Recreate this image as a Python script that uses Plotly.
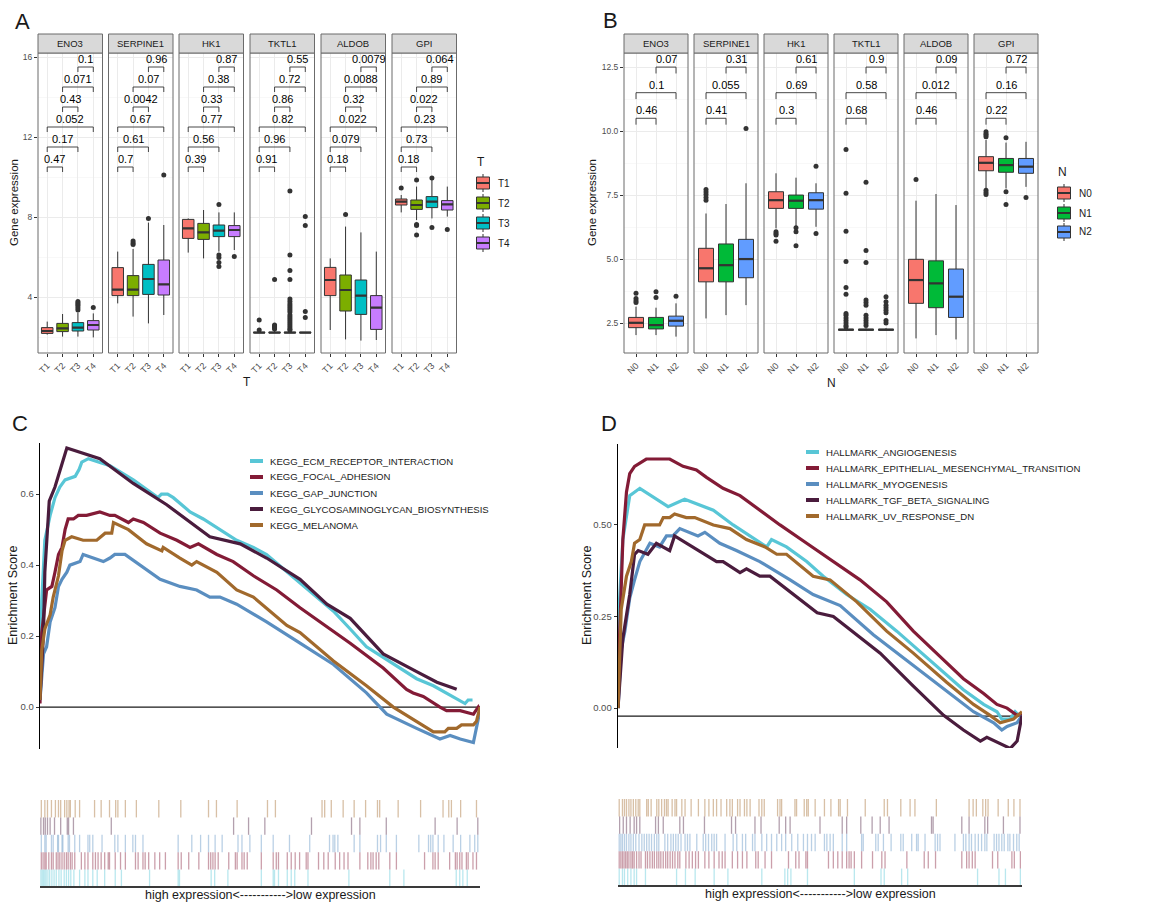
import plotly.graph_objects as go

# ============================ DATA ============================
GENES = ["ENO3", "SERPINE1", "HK1", "TKTL1", "ALDOB", "GPI"]
T_GROUPS = ["T1", "T2", "T3", "T4"]
N_GROUPS = ["N0", "N1", "N2"]
T_COLORS = ["#F8766D", "#7CAE00", "#00BFC4", "#C77CFF"]
N_COLORS = ["#F8766D", "#00BA38", "#619CFF"]

# Panel A box statistics (rows: genes, columns: T1..T4)
A_LOWER = [[2.12, 2.02, 2.02, 1.98], [3.68, 3.02, 2.68, 3.10], [6.22, 5.93, 6.27, 6.35],
           [2.20, 2.20, 2.20, 2.20], [2.35, 1.88, 1.82, 1.85], [8.23, 7.85, 7.93, 8.02]]
A_Q1 = [[2.18, 2.27, 2.30, 2.35], [4.07, 4.07, 4.13, 4.10], [6.93, 6.88, 7.02, 7.02],
        [2.21, 2.21, 2.21, 2.21], [4.07, 3.30, 3.13, 2.38], [8.60, 8.38, 8.47, 8.35]]
A_MED = [[2.30, 2.43, 2.47, 2.60], [4.37, 4.37, 4.90, 4.63], [7.43, 7.23, 7.32, 7.35],
         [2.22, 2.22, 2.22, 2.22], [4.85, 4.35, 4.07, 3.47], [8.77, 8.60, 8.77, 8.63]]
A_Q3 = [[2.47, 2.68, 2.72, 2.82], [5.47, 5.07, 5.63, 5.85], [7.88, 7.68, 7.60, 7.57],
        [2.24, 2.24, 2.24, 2.24], [5.48, 5.10, 4.85, 4.07], [8.90, 8.85, 9.02, 8.82]]
A_UPPER = [[2.77, 3.15, 3.22, 3.18], [6.27, 6.40, 7.72, 7.60], [7.93, 8.35, 8.23, 8.23],
           [2.28, 2.30, 2.30, 2.25], [5.93, 7.52, 7.23, 6.27], [9.10, 9.52, 9.85, 9.52]]
A_OUTLIERS = [
    [[], [], [3.35, 3.45, 3.55, 3.62, 3.70, 3.77], [3.48]],
    [[], [6.62, 6.70, 6.80], [7.93], [10.1]],
    [[], [], [8.63, 6.10, 5.97, 5.72, 5.52], [6.03]],
    [[2.85, 2.35], [4.88, 2.60, 2.55, 2.50, 2.45, 2.40],
     [9.30, 6.10, 5.32, 4.88, 3.90, 3.77, 3.65, 3.55, 3.45, 3.35, 3.25, 3.10, 3.00, 2.90,
      2.80, 2.70, 2.60, 2.50, 2.40, 2.35],
     [8.02, 7.57, 3.27, 2.98]],
    [[], [8.13], [], []],
    [[9.45], [9.85, 7.63, 7.57, 7.10], [9.95, 7.48], [7.38]],
]
A_PAIRS = [(1, 2), (1, 3), (1, 4), (2, 3), (2, 4), (3, 4)]
A_PVALS = [
    ["0.47", "0.17", "0.052", "0.43", "0.071", "0.1"],
    ["0.7", "0.61", "0.67", "0.0042", "0.07", "0.96"],
    ["0.39", "0.56", "0.77", "0.33", "0.38", "0.87"],
    ["0.91", "0.96", "0.82", "0.86", "0.72", "0.55"],
    ["0.18", "0.079", "0.022", "0.32", "0.0088", "0.0079"],
    ["0.18", "0.73", "0.23", "0.022", "0.89", "0.064"],
]
A_YTICKS = [4, 8, 12, 16]
A_YTICKTEXT = ["4", "8", "12", "16"]
A_YMINOR = [2, 6, 10, 14]

# Panel B box statistics (rows: genes, columns: N0..N2)
B_LOWER = [[2.03, 2.03, 1.97], [2.68, 2.81, 3.20], [6.20, 6.26, 6.26],
           [2.20, 2.20, 2.20], [1.90, 2.03, 1.86], [7.76, 7.76, 7.82]]
B_Q1 = [[2.32, 2.27, 2.38], [4.11, 4.11, 4.27], [6.98, 6.98, 6.95],
        [2.22, 2.22, 2.22], [3.27, 3.10, 2.72], [8.45, 8.39, 8.35]]
B_MED = [[2.51, 2.42, 2.59], [4.64, 4.76, 5.00], [7.30, 7.28, 7.30],
         [2.24, 2.24, 2.24], [4.18, 4.05, 3.53], [8.76, 8.67, 8.61]]
B_Q3 = [[2.72, 2.72, 2.77], [5.42, 5.59, 5.77], [7.63, 7.50, 7.59],
        [2.26, 2.26, 2.26], [4.99, 4.93, 4.61], [9.00, 8.93, 8.93]]
B_UPPER = [[3.14, 3.10, 3.27], [6.78, 7.15, 7.96], [8.35, 8.18, 7.96],
           [2.30, 2.30, 2.30], [7.28, 7.54, 7.11], [9.65, 9.55, 9.58]]
B_OUTLIERS = [
    [[3.66, 3.46, 3.37, 3.30], [3.72, 3.50], [3.55]],
    [[7.72, 7.62, 7.52, 7.40, 7.30], [], [10.1]],
    [[6.07, 6.00, 5.94, 5.70], [6.22, 6.07, 5.52], [8.63, 6.00]],
    [[9.28, 7.57, 6.09, 4.90, 3.89, 3.63, 2.87, 2.80, 2.70, 2.60, 2.50, 2.40, 2.35],
     [8.00, 5.33, 4.87, 3.40, 3.30, 3.20, 2.80, 2.70, 2.60, 2.50, 2.40],
     [3.53, 3.33, 3.20, 3.10, 3.00, 2.90, 2.60, 2.50]],
    [[8.11], [], []],
    [[9.97, 9.90, 9.85, 9.78, 7.69, 7.60, 7.52], [9.74, 7.63, 7.13], [7.40]],
]
B_PAIRS = [(1, 2), (1, 3), (2, 3)]
B_PVALS = [
    ["0.46", "0.1", "0.07"],
    ["0.41", "0.055", "0.31"],
    ["0.3", "0.69", "0.61"],
    ["0.68", "0.58", "0.9"],
    ["0.46", "0.012", "0.09"],
    ["0.22", "0.16", "0.72"],
]
B_YTICKS = [2.5, 5.0, 7.5, 10.0, 12.5]
B_YTICKTEXT = ["2.5", "5.0", "7.5", "10.0", "12.5"]
B_YMINOR = [3.75, 6.25, 8.75, 11.25]

# Panel C: running enrichment scores (x = % of ranked gene list)
C_NAMES = ["KEGG_ECM_RECEPTOR_INTERACTION", "KEGG_FOCAL_ADHESION", "KEGG_GAP_JUNCTION",
           "KEGG_GLYCOSAMINOGLYCAN_BIOSYNTHESIS", "KEGG_MELANOMA"]
C_ECM_X = [0, 0.4, 1.1, 2.3, 3.4, 4.5, 5.7, 8.0, 8.9, 9.5, 11.0, 13.6, 15.9, 21.2, 26.8, 27.6,
           29.0, 30.3, 34.1, 37.1, 40.9, 44.7, 48.5, 51.5, 55.3, 59.1, 63.6, 66.7, 70.5, 74.2,
           78.0, 81.8, 85.6, 89.4, 92.4, 96.6, 97.3, 98.3]
C_ECM_Y = [0.04, 0.30, 0.47, 0.54, 0.59, 0.62, 0.64, 0.65, 0.67, 0.69, 0.70, 0.69, 0.68, 0.64,
           0.59, 0.60, 0.60, 0.59, 0.55, 0.53, 0.50, 0.47, 0.45, 0.43, 0.39, 0.35, 0.30, 0.27,
           0.22, 0.17, 0.14, 0.11, 0.08, 0.06, 0.04, 0.01, 0.02, 0.02]
C_FOCAL_X = [0, 0.4, 1.5, 2.7, 3.4, 4.2, 5.0, 5.7, 6.4, 7.6, 8.7, 10.6, 13.6, 15.9, 17.0, 20.1,
             21.2, 23.5, 27.3, 31.1, 34.1, 36.0, 40.2, 43.9, 48.5, 53.8, 59.1, 63.6, 70.5, 78.0,
             83.3, 84.8, 87.1, 90.9, 92.4, 95.5, 98.5, 99.6, 100]
C_FOCAL_Y = [0.01, 0.21, 0.33, 0.34, 0.38, 0.43, 0.45, 0.50, 0.53, 0.53, 0.54, 0.54, 0.55, 0.54,
             0.54, 0.52, 0.53, 0.52, 0.49, 0.47, 0.45, 0.46, 0.43, 0.41, 0.37, 0.33, 0.28, 0.24,
             0.18, 0.11, 0.05, 0.04, 0.03, 0.00, -0.01, -0.01, -0.02, 0.00, -0.01]
C_GAP_X = [0, 0.8, 1.5, 2.3, 3.4, 4.2, 5.0, 6.1, 6.8, 9.1, 9.8, 12.1, 14.4, 15.9, 17.0, 19.3,
           22.7, 27.3, 31.8, 35.6, 38.6, 40.9, 44.7, 51.5, 59.1, 66.7, 74.2, 78.8, 85.6, 90.9,
           93.2, 95.5, 98.5, 99.2, 100]
C_GAP_Y = [0.02, 0.15, 0.17, 0.24, 0.28, 0.34, 0.36, 0.38, 0.40, 0.41, 0.43, 0.42, 0.41, 0.42,
           0.43, 0.43, 0.40, 0.36, 0.34, 0.33, 0.31, 0.31, 0.29, 0.24, 0.18, 0.12, 0.04, -0.02,
           -0.06, -0.09, -0.08, -0.09, -0.10, -0.06, -0.01]
C_GLYCO_X = [0, 0.8, 1.1, 2.1, 3.4, 6.1, 13.6, 21.2, 28.8, 38.6, 45.5, 51.5, 59.1, 65.2, 70.5,
             78.0, 85.6, 90.2, 94.7]
C_GLYCO_Y = [0.02, 0.21, 0.38, 0.58, 0.62, 0.73, 0.70, 0.63, 0.57, 0.48, 0.46, 0.42, 0.36, 0.29,
             0.25, 0.15, 0.10, 0.07, 0.05]
C_MEL_X = [0, 0.4, 1.1, 2.3, 3.0, 4.2, 5.0, 5.7, 7.2, 9.8, 12.9, 14.8, 16.3, 16.7, 20.1, 24.2,
           27.7, 28.0, 31.8, 34.5, 35.6, 40.2, 44.7, 48.5, 56.1, 59.1, 66.7, 74.2, 80.3, 85.6,
           89.4, 92.0, 92.8, 94.7, 95.8, 98.5, 99.2, 100]
C_MEL_Y = [0.02, 0.16, 0.22, 0.26, 0.31, 0.37, 0.44, 0.47, 0.48, 0.47, 0.47, 0.49, 0.49, 0.52,
           0.50, 0.46, 0.44, 0.45, 0.42, 0.40, 0.41, 0.38, 0.33, 0.31, 0.23, 0.21, 0.13, 0.06,
           0.00, -0.04, -0.07, -0.07, -0.06, -0.06, -0.05, -0.05, -0.04, 0.00]
C_COLORS = ["#58C6D6", "#831B36", "#5A8EC0", "#4A1C3D", "#A1692C"]
C_YTICKS = [0.0, 0.2, 0.4, 0.6]
C_YTICKTEXT = ["0.0", "0.2", "0.4", "0.6"]
C_HLINE = 0.0

# Panel C gene-set hit positions (% of ranked list)
C_RUG_ECM = [0.2, 0.5, 0.8, 1.1, 1.4, 1.8, 2.2, 2.7, 3.2, 3.7, 4.3, 4.8, 5.5, 6.0, 6.5, 7.0, 7.7,
             9.0, 10.2, 10.9, 12.0, 13.0, 14.7, 17.1, 18.5, 24.9, 31.4, 31.7, 38.9, 39.7, 42.7,
             50.3, 53.0, 53.3, 54.2, 56.2, 57.1, 57.9, 60.9, 70.2, 79.5, 82.7, 94.6, 95.4, 96.1,
             97.1]
C_RUG_FOCAL = [0.3, 0.7, 1.1, 1.4, 2.0, 2.6, 3.0, 3.7, 4.1, 4.5, 5.0, 5.5, 6.0, 6.4, 6.9, 7.3,
               7.9, 9.4, 10.2, 10.9, 12.0, 12.6, 13.2, 13.9, 14.7, 15.5, 15.8, 17.1, 18.3, 19.4,
               21.7, 22.3, 23.4, 23.9, 24.7, 26.1, 27.2, 28.5, 31.4, 32.1, 33.8, 36.1, 38.3,
               38.8, 39.3, 39.8, 40.5, 42.9, 44.4, 44.8, 45.9, 46.4, 47.1, 50.3, 53.0, 53.7,
               54.2, 56.2, 57.1, 58.0, 59.0, 60.5, 60.9, 63.3, 64.5, 65.5, 67.1, 68.1, 69.1,
               70.0, 72.7, 74.5, 75.2, 75.7, 76.4, 77.0, 79.5, 81.0, 87.4, 89.3, 89.8, 90.5,
               93.1, 94.4, 94.8, 95.4, 95.9, 96.9, 97.3, 98.4, 99.2]
C_RUG_GAP = [0.3, 1.1, 1.4, 2.6, 3.0, 4.0, 4.2, 5.0, 5.2, 6.4, 6.7, 7.9, 9.0, 10.9, 11.3, 12.0,
             14.1, 17.0, 17.7, 19.4, 21.1, 21.7, 23.4, 31.4, 34.5, 36.5, 38.3, 39.8, 41.4,
             45.0, 45.9, 47.7, 50.3, 53.0, 56.7, 61.3, 65.8, 66.6, 67.0, 67.7, 71.4, 72.7,
             76.7, 77.4, 78.7, 81.0, 86.1, 88.3, 88.8, 89.3, 90.5, 91.8, 93.9, 95.6, 97.7,
             98.8, 99.5]
C_RUG_GLYCO = [0.2, 0.8, 1.2, 1.7, 2.3, 3.3, 4.7, 6.2, 6.5, 7.6, 16.2, 44.0, 47.4, 51.1, 61.7,
               70.8, 72.7, 78.7, 89.8, 94.8, 99.5]
C_RUG_MEL = [0.3, 1.1, 1.7, 2.6, 3.5, 4.2, 4.7, 5.6, 6.1, 6.6, 6.9, 8.0, 9.0, 12.4, 13.9, 15.8,
             17.2, 17.7, 19.4, 21.9, 27.0, 32.0, 38.3, 40.1, 44.8, 51.7, 53.5, 64.1, 64.7, 66.2,
             68.9, 71.4, 74.0, 76.7, 77.2, 81.4, 86.5, 91.6, 92.9, 93.5, 95.6, 99.2]

# Panel D: running enrichment scores
D_NAMES = ["HALLMARK_ANGIOGENESIS", "HALLMARK_EPITHELIAL_MESENCHYMAL_TRANSITION",
           "HALLMARK_MYOGENESIS", "HALLMARK_TGF_BETA_SIGNALING", "HALLMARK_UV_RESPONSE_DN"]
D_ANGIO_X = [0, 0.4, 1.2, 2.5, 2.9, 5.4, 12.4, 16.5, 21.1, 23.6, 28.5, 32.6, 36.8, 38.0, 41.7,
             46.7, 50.8, 56.6, 62.4, 69.0, 77.3, 85.5, 90.5, 93.8, 95.0, 97.1, 98.3, 99.2, 100]
D_ANGIO_Y = [0.00, 0.30, 0.46, 0.55, 0.58, 0.60, 0.55, 0.57, 0.55, 0.54, 0.50, 0.47, 0.44, 0.46,
             0.44, 0.40, 0.36, 0.31, 0.27, 0.21, 0.13, 0.05, 0.01, -0.01, -0.03, -0.03, -0.01,
             -0.02, -0.02]
D_EMT_X = [0, 0.4, 1.2, 2.1, 2.9, 4.1, 7.0, 12.8, 16.1, 19.4, 21.9, 26.0, 30.2, 35.1, 40.1,
           46.7, 53.3, 59.9, 66.5, 73.1, 79.8, 85.5, 90.5, 93.8, 96.3, 98.8, 100]
D_EMT_Y = [0.00, 0.20, 0.46, 0.59, 0.64, 0.66, 0.68, 0.68, 0.66, 0.65, 0.63, 0.60, 0.58, 0.54,
           0.50, 0.45, 0.40, 0.35, 0.29, 0.21, 0.14, 0.08, 0.04, 0.01, 0.00, -0.02, -0.02]
D_MYO_X = [0, 0.8, 1.7, 2.9, 4.1, 5.4, 7.9, 10.3, 12.0, 13.6, 15.3, 17.8, 19.8, 21.5, 25.2,
           29.3, 35.1, 42.6, 48.3, 55.0, 63.2, 71.5, 79.8, 88.0, 93.0, 95.0, 96.3, 98.8, 100]
D_MYO_Y = [0.00, 0.16, 0.21, 0.30, 0.35, 0.40, 0.45, 0.44, 0.47, 0.47, 0.49, 0.48, 0.47, 0.48,
           0.45, 0.43, 0.40, 0.35, 0.31, 0.28, 0.20, 0.13, 0.06, -0.01, -0.04, -0.06, -0.05,
           -0.04, -0.02]
D_TGF_X = [0, 1.2, 2.9, 4.1, 5.0, 7.4, 9.5, 12.8, 14.0, 18.6, 24.4, 26.0, 30.2, 31.8, 35.1,
           37.6, 43.4, 49.3, 53.3, 59.1, 64.9, 73.1, 80.6, 85.5, 89.7, 91.3, 97.1, 98.8, 100]
D_TGF_Y = [0.00, 0.19, 0.31, 0.42, 0.43, 0.42, 0.45, 0.43, 0.47, 0.44, 0.40, 0.40, 0.37, 0.38,
           0.36, 0.36, 0.31, 0.26, 0.25, 0.20, 0.15, 0.06, -0.02, -0.06, -0.09, -0.08, -0.11,
           -0.09, -0.02]
D_UV_X = [0, 0.8, 2.1, 3.3, 4.1, 5.4, 6.6, 10.3, 11.2, 12.8, 14.0, 16.9, 19.0, 23.6, 27.7,
          31.8, 36.4, 39.3, 41.7, 48.3, 52.5, 59.1, 66.5, 73.1, 81.4, 88.0, 92.1, 94.6, 97.9,
          100]
D_UV_Y = [0.00, 0.27, 0.36, 0.40, 0.45, 0.46, 0.50, 0.50, 0.52, 0.52, 0.53, 0.52, 0.52, 0.50,
          0.49, 0.46, 0.44, 0.42, 0.42, 0.36, 0.35, 0.29, 0.21, 0.15, 0.07, 0.01, -0.02, -0.04,
          -0.03, -0.01]
D_COLORS = ["#58C6D6", "#831B36", "#5A8EC0", "#4A1C3D", "#A1692C"]
D_YTICKS = [0.0, 0.25, 0.5]
D_YTICKTEXT = ["0.00", "0.25", "0.50"]
D_HLINE = -0.022

D_RUG_ANGIO = [0.3, 1.1, 1.6, 2.4, 3.2, 4.0, 4.6, 6.8, 14.5, 16.7, 19.1, 23.8, 27.2, 35.6,
               41.3, 42.0, 42.8, 46.9, 58.5, 65.1, 65.9, 70.2, 71.7, 89.0, 94.3, 95.9, 99.6]
D_RUG_EMT = [0.3, 0.7, 1.1, 1.5, 1.9, 2.3, 2.7, 3.2, 3.6, 4.0, 4.6, 5.2, 5.7, 6.8, 7.3, 7.9,
             8.5, 9.0, 9.6, 10.1, 10.6, 11.2, 11.8, 12.3, 12.9, 13.5, 14.1, 14.8, 15.3, 16.8,
             17.6, 18.4, 19.2, 19.9, 21.5, 22.5, 23.8, 25.0, 25.8, 26.5, 28.3, 29.6, 30.8,
             31.9, 34.1, 34.7, 36.4, 38.0, 42.2, 44.0, 44.8, 46.5, 46.9, 52.1, 53.3, 54.4,
             55.5, 56.6, 57.2, 57.7, 58.5, 60.3, 63.0, 65.3, 66.1, 71.5, 75.8, 76.8, 78.6,
             85.1, 86.3, 86.9, 87.7, 88.4, 92.7, 94.0, 97.5, 98.1, 99.6]
D_RUG_MYO = [0.3, 0.7, 1.1, 1.6, 2.1, 2.7, 3.2, 3.8, 4.4, 5.2, 5.9, 6.5, 7.1, 7.7, 8.3, 9.0,
             9.6, 10.1, 11.6, 12.3, 13.1, 13.7, 14.3, 14.9, 15.6, 16.6, 17.2, 17.8, 19.5, 21.1,
             21.7, 22.4, 23.2, 23.8, 24.4, 26.5, 28.5, 29.4, 30.8, 31.6, 33.3, 33.9, 35.6,
             36.8, 38.0, 39.3, 40.5, 41.5, 43.0, 44.5, 45.9, 46.9, 47.9, 48.8, 51.1, 51.7,
             52.5, 53.3, 55.5, 56.6, 60.3, 60.7, 63.8, 64.4, 65.7, 67.6, 70.0, 70.6, 72.7,
             73.9, 74.3, 76.0, 78.5, 79.1, 79.7, 83.4, 85.5, 86.1, 86.9, 87.5, 88.4, 89.2,
             90.0, 90.8, 91.3, 93.1, 93.7, 94.3, 95.0, 95.6, 96.5, 97.0, 97.9, 98.7, 99.3]
D_RUG_TGF = [0.4, 1.3, 2.1, 3.0, 4.0, 4.6, 5.4, 9.3, 10.0, 11.2, 15.3, 16.2, 21.4, 28.1, 29.1,
             33.9, 35.4, 39.9, 41.5, 42.6, 50.0, 55.5, 56.6, 60.1, 62.9, 64.9, 67.1, 77.6,
             78.0, 85.1, 86.9, 90.8, 91.5, 95.4, 99.5]
D_RUG_UV = [0.3, 1.1, 1.6, 2.1, 2.7, 3.2, 3.8, 4.4, 5.0, 5.4, 7.1, 7.5, 8.2, 9.6, 10.1, 10.8,
            11.5, 12.0, 12.4, 13.4, 14.1, 14.5, 15.8, 16.6, 18.1, 19.9, 21.5, 22.5, 23.6, 24.4,
            25.5, 26.9, 27.7, 28.3, 29.6, 30.2, 31.3, 31.9, 32.7, 34.9, 35.6, 36.2, 39.5, 40.1,
            40.5, 43.8, 44.2, 46.1, 46.7, 47.1, 48.8, 51.1, 52.7, 54.6, 55.0, 56.8, 61.2,
            65.9, 66.7, 70.0, 72.3, 73.5, 78.8, 86.9, 87.9, 88.7, 90.3, 91.0, 91.6, 94.1,
            96.6, 98.0, 99.5]

RUG_TEXT = "high expression<----------->low expression"

# ============================ LAYOUT HELPERS ============================
W, H = 1155, 904
FONT = "Liberation Sans, Arial, sans-serif"
BORDER = "#6B6B6B"


def fx(p):
    return p / W


def fy(p):
    return 1 - p / H


def rgba(h, a):
    h = h.lstrip("#")
    return "rgba(%d,%d,%d,%.3f)" % (int(h[0:2], 16), int(h[2:4], 16), int(h[4:6], 16), a)


fig = go.Figure()
layout = dict(width=W, height=H, margin=dict(l=0, r=0, t=0, b=0), paper_bgcolor="white",
              plot_bgcolor="white", showlegend=False, hovermode=False,
              font=dict(family=FONT, color="#1A1A1A"))
annotations = []
shapes = []
axis_counter = [0]


def new_axes(xdom, ydom, xcfg, ycfg):
    axis_counter[0] += 1
    i = axis_counter[0]
    xk = "xaxis" if i == 1 else "xaxis%d" % i
    yk = "yaxis" if i == 1 else "yaxis%d" % i
    xr = "x" if i == 1 else "x%d" % i
    yr = "y" if i == 1 else "y%d" % i
    layout[xk] = dict(domain=[fx(xdom[0]), fx(xdom[1])], anchor=yr, **xcfg)
    layout[yk] = dict(domain=[fy(ydom[1]), fy(ydom[0])], anchor=xr, **ycfg)
    return xr, yr


def text(x, y, s, size, xanchor="center", yanchor="middle", angle=0, color="#1A1A1A",
         xref="paper", yref="paper"):
    annotations.append(dict(x=x, y=y, xref=xref, yref=yref, text=s, showarrow=False,
                            font=dict(size=size, color=color, family=FONT), xanchor=xanchor,
                            yanchor=yanchor, textangle=angle, borderpad=0))


PLOT_TOP, PLOT_BOT, STRIP_TOP = 53, 353, 34


def facet(gi, left, right, groups, colors, LO, Q1, MD, Q3, UP, OUT, PV, pairs, base_level,
          yrange, ytv, ytt, ymin, drop):
    n = len(groups)
    pos = list(range(1, n + 1))
    show_y = gi == 0
    xcfg = dict(range=[0.4, n + 0.6], tickmode="array", tickvals=pos, ticktext=groups,
                tickangle=-45, ticks="outside", ticklen=3, tickcolor="#333333", tickwidth=1,
                tickfont=dict(size=9, color="#4D4D4D", family=FONT), showgrid=True,
                gridcolor="#EBEBEB", gridwidth=1, zeroline=False, showline=False)
    ycfg = dict(range=yrange, tickmode="array", tickvals=ytv, ticktext=ytt, showgrid=True,
                gridcolor="#EBEBEB", gridwidth=1, zeroline=False, showline=False,
                minor=dict(tickmode="array", tickvals=ymin, showgrid=True, gridcolor="#F4F4F4",
                           gridwidth=0.6, ticks=""),
                showticklabels=show_y, ticks="outside" if show_y else "", ticklen=3,
                tickcolor="#333333", tickfont=dict(size=8.5, color="#4D4D4D", family=FONT))
    xr, yr = new_axes((left, right), (PLOT_TOP, PLOT_BOT), xcfg, ycfg)
    for k in range(n):
        fig.add_trace(go.Box(x=[pos[k]], q1=[Q1[gi][k]], median=[MD[gi][k]], q3=[Q3[gi][k]],
                             lowerfence=[LO[gi][k]], upperfence=[UP[gi][k]], width=0.75,
                             fillcolor=colors[k], line=dict(color="#333333", width=1),
                             whiskerwidth=0, boxpoints=False, xaxis=xr, yaxis=yr,
                             hoverinfo="skip"))
    mx, my = [], []
    for k in range(n):
        mx += [pos[k] - 0.375, pos[k] + 0.375, None]
        my += [MD[gi][k], MD[gi][k], None]
    fig.add_trace(go.Scatter(x=mx, y=my, mode="lines", line=dict(color="#333333", width=2.2),
                             xaxis=xr, yaxis=yr, hoverinfo="skip"))
    ox, oy = [], []
    for k in range(n):
        ox += [pos[k]] * len(OUT[gi][k])
        oy += OUT[gi][k]
    fig.add_trace(go.Scatter(x=ox, y=oy, mode="markers",
                             marker=dict(size=5, color="#333333"), xaxis=xr, yaxis=yr,
                             hoverinfo="skip"))
    bx, by = [], []
    for j, (a, b) in enumerate(pairs):
        lv = base_level + j
        bx += [a, a, b, b, None]
        by += [lv - drop, lv, lv, lv - drop, None]
        annotations.append(dict(x=(a + b) / 2, y=lv, xref=xr, yref=yr, text=PV[gi][j],
                                showarrow=False, yanchor="bottom", xanchor="center", yshift=1,
                                font=dict(size=11, color="#000000", family=FONT),
                                borderpad=0))
    fig.add_trace(go.Scatter(x=bx, y=by, mode="lines", line=dict(color="#333333", width=0.9),
                             xaxis=xr, yaxis=yr, hoverinfo="skip"))
    shapes.append(dict(type="rect", xref=xr + " domain", yref=yr + " domain", x0=0, x1=1,
                       y0=0, y1=1, line=dict(color=BORDER, width=1), layer="above"))
    shapes.append(dict(type="rect", xref="paper", yref="paper", x0=fx(left), x1=fx(right),
                       y0=fy(PLOT_TOP), y1=fy(STRIP_TOP), fillcolor="#D9D9D9",
                       line=dict(color=BORDER, width=1)))
    text(fx((left + right) / 2), fy((STRIP_TOP + PLOT_TOP) / 2), GENES[gi], 9.5)


def box_legend(title, title_xy, groups, colors, cx, cys, label_x):
    text(fx(title_xy[0]), fy(title_xy[1]), title, 12, xanchor="left")
    for g, c, cy in zip(groups, colors, cys):
        shapes.append(dict(type="line", xref="paper", yref="paper", x0=fx(cx), x1=fx(cx),
                           y0=fy(cy - 9), y1=fy(cy + 9), line=dict(color="#333333", width=1)))
        shapes.append(dict(type="rect", xref="paper", yref="paper", x0=fx(cx - 6.5),
                           x1=fx(cx + 6.5), y0=fy(cy + 6), y1=fy(cy - 6), fillcolor=c,
                           line=dict(color="#333333", width=1)))
        shapes.append(dict(type="line", xref="paper", yref="paper", x0=fx(cx - 6.5),
                           x1=fx(cx + 6.5), y0=fy(cy), y1=fy(cy),
                           line=dict(color="#333333", width=2)))
        text(fx(label_x), fy(cy), g, 10, xanchor="left", color="#1A1A1A")


# ---------------- Panel A ----------------
A_LEFTS = [38, 108.5, 179, 250, 321, 392]
for gi in range(6):
    facet(gi, A_LEFTS[gi], A_LEFTS[gi] + 64.5, T_GROUPS, T_COLORS, A_LOWER, A_Q1, A_MED, A_Q3,
          A_UPPER, A_OUTLIERS, A_PVALS, A_PAIRS, 10.5, [1.2, 16.2], A_YTICKS, A_YTICKTEXT,
          A_YMINOR, 0.25)
box_legend("T", (476, 162), T_GROUPS, T_COLORS, 483, [183, 203, 223, 243], 497)
text(fx(14), fy(203), "Gene expression", 11.5, angle=-90)
text(fx(247), fy(382), "T", 12)
text(fx(22), fy(22), "A", 22)

# ---------------- Panel B ----------------
B_LEFTS = [624, 694, 764, 834, 904, 974]
for gi in range(6):
    facet(gi, B_LEFTS[gi], B_LEFTS[gi] + 64, N_GROUPS, N_COLORS, B_LOWER, B_Q1, B_MED, B_Q3,
          B_UPPER, B_OUTLIERS, B_PVALS, B_PAIRS, 10.5, [1.33, 13.05], B_YTICKS, B_YTICKTEXT,
          B_YMINOR, 0.25)
box_legend("N", (1057, 172), N_GROUPS, N_COLORS, 1064, [193, 213, 232], 1078)
text(fx(592), fy(203), "Gene expression", 11.5, angle=-90)
text(fx(831), fy(383), "N", 12)
text(fx(610), fy(20), "B", 22)


# ---------------- GSEA panels ----------------
def gsea(x0, x1, top, bot, yrange, ytv, ytt, curves, colors, names, hline, leg_x, leg_y,
         rug_top, rug_bot, rugs, rug_text_xy, ylab_x, letter, letter_xy):
    xcfg = dict(range=[0, 100], visible=False, fixedrange=True)
    ycfg = dict(range=yrange, tickmode="array", tickvals=ytv, ticktext=ytt, showline=True,
                linecolor="#000000", linewidth=1.4, ticks="outside", ticklen=3,
                tickcolor="#333333", tickfont=dict(size=9.5, color="#4D4D4D", family=FONT),
                showgrid=False, zeroline=False)
    xr, yr = new_axes((x0, x1), (top, bot), xcfg, ycfg)
    fig.add_trace(go.Scatter(x=[0, 100], y=[hline, hline], mode="lines",
                             line=dict(color="#1A1A1A", width=1.3), xaxis=xr, yaxis=yr,
                             hoverinfo="skip"))
    for (cx, cy), col in zip(curves, colors):
        fig.add_trace(go.Scatter(x=cx, y=cy, mode="lines", line=dict(color=col, width=3.2),
                                 xaxis=xr, yaxis=yr, hoverinfo="skip"))
    for i, (nm, col) in enumerate(zip(names, colors)):
        yy = leg_y + 16 * i
        shapes.append(dict(type="line", xref="paper", yref="paper", x0=fx(leg_x),
                           x1=fx(leg_x + 13), y0=fy(yy), y1=fy(yy),
                           line=dict(color=col, width=4)))
        text(fx(leg_x + 19), fy(yy), nm, 9.6, xanchor="left", color="#1A1A1A")
    # rug area
    rxr, ryr = new_axes((x0, x1), (rug_top, rug_bot),
                        dict(range=[0, 100], visible=False, fixedrange=True),
                        dict(range=[0, 5], visible=False, fixedrange=True))
    row_h = (rug_bot - rug_top) / 5.0
    for i, (ticks, col) in enumerate(zip(rugs, colors)):
        fig.add_trace(go.Scatter(x=ticks, y=[i + 0.5] * len(ticks), mode="markers",
                                 marker=dict(symbol="line-ns-open", size=row_h / 1.4,
                                             color=rgba(col, 0.42), line=dict(width=1.3)),
                                 xaxis=rxr, yaxis=ryr, hoverinfo="skip"))
    shapes.append(dict(type="line", xref="paper", yref="paper", x0=fx(x0), x1=fx(x1),
                       y0=fy(rug_bot), y1=fy(rug_bot), line=dict(color="#3A3A3A", width=2)))
    text(fx(rug_text_xy[0]), fy(rug_text_xy[1]), RUG_TEXT, 12.5)
    text(fx(ylab_x), fy((top + bot) / 2), "Enrichment Score", 12.5, angle=-90)
    text(fx(letter_xy[0]), fy(letter_xy[1]), letter, 22)


gsea(40, 480, 443, 749, [-0.118, 0.744], C_YTICKS, C_YTICKTEXT,
     [(C_ECM_X, C_ECM_Y), (C_FOCAL_X, C_FOCAL_Y), (C_GAP_X, C_GAP_Y),
      (C_GLYCO_X, C_GLYCO_Y), (C_MEL_X, C_MEL_Y)],
     C_COLORS, C_NAMES, C_HLINE, 250, 461, 800, 887,
     [C_RUG_ECM, C_RUG_FOCAL, C_RUG_GAP, C_RUG_GLYCO, C_RUG_MEL], (260, 895), 13, "C",
     (20, 423))

gsea(618, 1022, 444, 748, [-0.109, 0.721], D_YTICKS, D_YTICKTEXT,
     [(D_ANGIO_X, D_ANGIO_Y), (D_EMT_X, D_EMT_Y), (D_MYO_X, D_MYO_Y),
      (D_TGF_X, D_TGF_Y), (D_UV_X, D_UV_Y)],
     D_COLORS, D_NAMES, D_HLINE, 806, 452, 799, 886,
     [D_RUG_ANGIO, D_RUG_EMT, D_RUG_MYO, D_RUG_TGF, D_RUG_UV], (820, 894), 587, "D",
     (609, 423))

layout["annotations"] = annotations
layout["shapes"] = shapes
fig.update_layout(**layout)
fig.write_html("out.html", config={"displayModeBar": False, "staticPlot": True},
               post_script="document.body.style.margin='0';"
                           "document.documentElement.style.overflow='hidden';")
